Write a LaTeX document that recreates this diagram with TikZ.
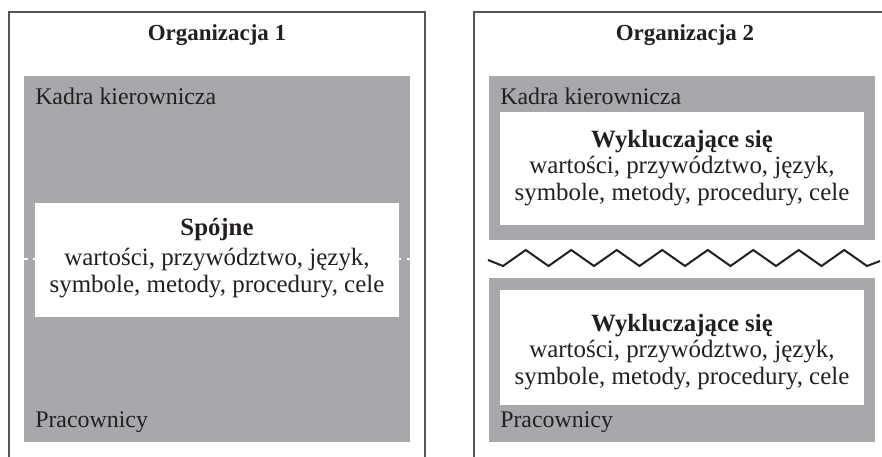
\documentclass[tikz,border=0pt]{standalone}
\usepackage{fontspec}
\setmainfont{Liberation Serif}
\definecolor{framegray}{HTML}{555555}
\definecolor{bandgray}{HTML}{A7A8AB}
\definecolor{textcol}{HTML}{231F20}
\newcommand\boxhead[1]{{\fontsize{18.6}{20}\selectfont\bfseries #1}}
\begin{document}
\begin{tikzpicture}[x=0.75pt,y=-0.75pt,
  frame/.style={draw=framegray,line width=1.1pt},
  band/.style={fill=bandgray},
  panel/.style={fill=white},
  zigzag/.style={draw=textcol,line width=1.5pt,line join=miter},
  cut/.style={draw=white,line width=1.4pt,dash pattern=on 3pt off 4pt},
  title/.style={font=\fontsize{17.2}{20}\selectfont\bfseries,text=textcol,inner sep=0pt},
  label/.style={font=\fontsize{17.9}{20}\selectfont,text=textcol,inner sep=0pt,anchor=base west},
  content/.style={font=\fontsize{18.7}{20}\selectfont,text=textcol,inner sep=0pt,align=center}]
\useasboundingbox (0,0) rectangle (882,457);
% Organizacja 1
\draw[frame] (9,458) -- (9,12) -- (425,12) -- (425,458);
\node[title] (t1) at (217,35) {Organizacja 1};
\fill[band] (24,76) rectangle (410,442);
\draw[cut] (24,259) -- (410,259);
\fill[panel] (35,203) rectangle (399,317);
\node[label] (k1) at (35,104) {Kadra kierownicza};
\node[label] (p1) at (35,427) {Pracownicy};
\node[content] (c1) at (217,258) {\boxhead{Spójne}\\[3pt]wartości, przywództwo, język,\\symbole, metody, procedury, cele};
% Organizacja 2
\draw[frame] (474,458) -- (474,12) -- (884,12);
\node[title] (t2) at (685,35) {Organizacja 2};
\fill[band] (489,76) rectangle (875,240);
\fill[panel] (500,112) rectangle (864,225);
\fill[band] (489,278) rectangle (875,442);
\fill[panel] (500,290) rectangle (864,405);
\node[label] (k2) at (500,104) {Kadra kierownicza};
\node[label] (p2) at (500,427) {Pracownicy};
\node[content] (c2) at (682,168) {\boxhead{Wykluczające się}\\wartości, przywództwo, język,\\symbole, metody, procedury, cele};
\node[content] (c3) at (682,352) {\boxhead{Wykluczające się}\\wartości, przywództwo, język,\\symbole, metody, procedury, cele};
\coordinate (zzA) at (488,260);
\coordinate (zzB) at (880,261);
\draw[zigzag] (zzA) \foreach \k in {0,...,7} {-- ({503+45.5*\k},266) -- ({525.75+45.5*\k},250)} -- (867,266) -- (zzB);
\end{tikzpicture}
\end{document}
